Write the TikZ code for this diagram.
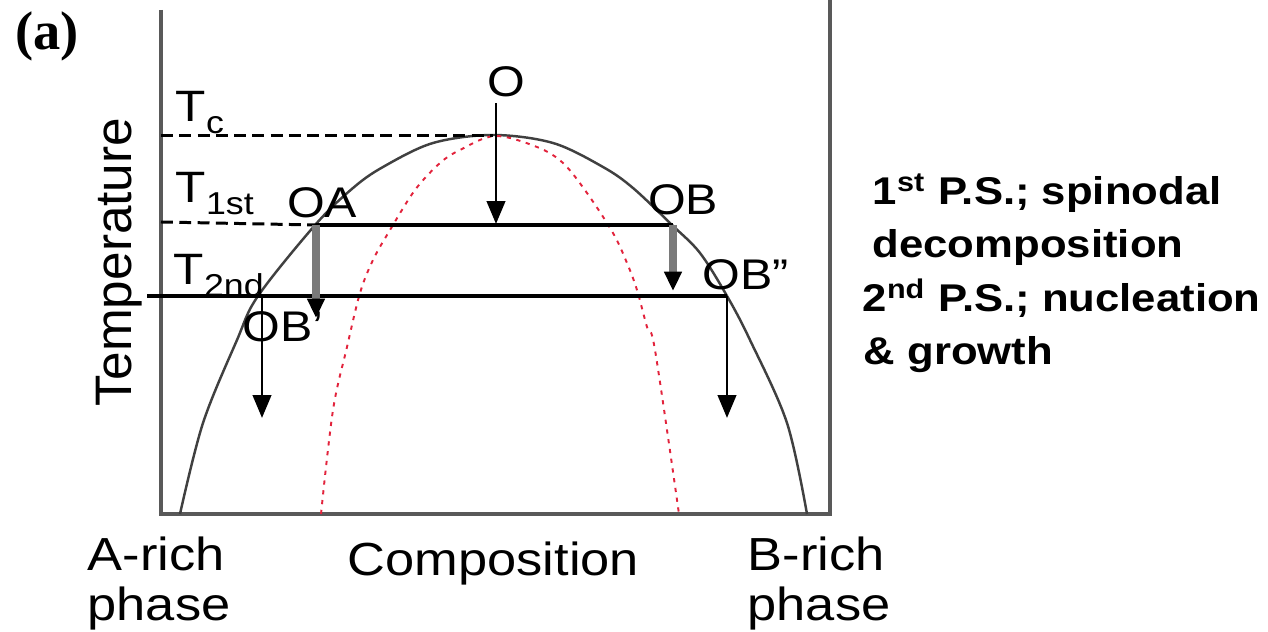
\documentclass[tikz,border=0pt]{standalone}
\usepackage{fontspec}
\setmainfont{Liberation Sans}
\newfontfamily\panelfont{Liberation Serif}
\usepackage{graphicx}
\usepackage{xcolor}
\usetikzlibrary{arrows.meta}

\definecolor{spinred}{RGB}{226,35,60}
\newcommand{\wide}[1]{\scalebox{1.13}[1]{#1}}
\newcommand{\tsub}[1]{\raisebox{-3.3pt}{\fontsize{9}{9}\selectfont #1}}

\begin{document}
\begin{tikzpicture}[x=0.1mm, y=-0.1mm,
    lbl/.style={inner sep=1.5pt, anchor=base, font=\fontsize{12.2}{14}\selectfont},
    tlbl/.style={inner sep=0pt, anchor=base west, font=\fontsize{12.5}{14}\selectfont},
    axtext/.style={inner sep=0pt, anchor=base west, font=\fontsize{13.2}{15}\selectfont},
    note/.style={inner sep=0pt, anchor=base west, font=\fontsize{11}{13}\selectfont\bfseries},
    frame/.style={draw=black!65, line width=1.15pt},
    binodal/.style={draw=black!75, line width=0.7pt},
    spinodal/.style={draw=spinred, line width=0.55pt, dash pattern=on 1.2pt off 1.6pt},
    tie/.style={draw=black, line width=1pt},
    guide/.style={draw=black, line width=0.85pt, dash pattern=on 3.4pt off 1.8pt},
    blackarr/.style={draw=black, line width=0.85pt, -{Triangle[length=6.5pt,width=5.2pt]}},
    grayarr/.style={draw=black!52, line width=2pt, -{Triangle[length=5.5pt,width=4.8pt,color=black]}}]
    \useasboundingbox (0,0) rectangle (1268,632);

    % frame of the phase diagram
    \draw[frame] (161,10) -- (161,514) -- (830,514) -- (830,0);

    % binodal and spinodal curves
    \draw[binodal] plot[smooth, tension=0.55] coordinates {(180,514) (203,423) (237,340) (258,296) (316,224) (353,188) (383,167) (433,143) (493,135) (553,143) (603,167) (633,188) (672,225) (700,253) (727,296) (750,340) (787,423) (807,514)};
    \draw[spinodal] plot[smooth, tension=0.55] coordinates {(321,514) (333,410) (347,347) (360,293) (373,260) (390,230) (415,190) (440,163) (460,150) (495,136) (537,147) (563,163) (587,193) (613,233) (627,263) (637,290) (647,327) (655,350) (679,514)};

    % points on the curves
    \coordinate (peak) at (493,136);
    \coordinate (pA) at (316,225);
    \coordinate (pB) at (673,225);
    \coordinate (pB1) at (262,296);
    \coordinate (pB2) at (727,296);
    \coordinate (oEnd) at (496,224);

    % temperature levels
    \draw[guide] (161,136) -- (peak);
    \draw[guide] (161,222) -- (pA);
    \draw[tie] (pA) -- (pB);
    \draw[tie] (147,296) -- (pB2);

    % labels
    \node[font=\fontsize{15.5}{18}\selectfont\panelfont\bfseries, inner sep=0pt] (panel) at (47,36) {(a)};
    \node[rotate=90, anchor=base, inner sep=0pt, font=\fontsize{14.6}{16}\selectfont] (temp) at (132,262) {Temperature};
    \node[tlbl] (tc) at (175,122) {\wide{T\tsub{c}}};
    \node[tlbl] (t1st) at (175,203) {\wide{T\tsub{1st}}};
    \node[tlbl] (t2nd) at (173,285) {\wide{T\tsub{2nd}}};
    \node[lbl] (O) at (506,97) {\wide{O}};
    \node[lbl] (OA) at (322,218) {\wide{OA}};
    \node[lbl] (OB) at (683,215) {\wide{OB}};
    \node[lbl, anchor=base west] (OBp) at (237,342) {\wide{OB'}};
    \node[lbl, anchor=base west] (OBpp) at (697,290) {\wide{OB"}};

    \node[axtext] (arich) at (87,571) {\wide{A-rich}};
    \node[axtext] (aphase) at (87,621) {\wide{phase}};
    \node[axtext] (comp) at (347,576) {\wide{Composition}};
    \node[axtext] (brich) at (747,571) {\wide{B-rich}};
    \node[axtext] (bphase) at (747,621) {\wide{phase}};

    \node[note] (first) at (872,205) {\wide{1\textsuperscript{st} P.S.; spinodal}};
    \node[note] (firstb) at (872,258) {\wide{decomposition}};
    \node[note] (second) at (862,312) {\wide{2\textsuperscript{nd} P.S.; nucleation}};
    \node[note] (secondb) at (863,365) {\wide{\& growth}};

    % quench and phase separation arrows
    \draw[blackarr] (O.south -| oEnd) -- (oEnd);
    \draw[grayarr] (pA) -- (316,318);
    \draw[grayarr] (pB) -- (673,291);
    \draw[blackarr] (pB1) -- (262,418);
    \draw[blackarr] (pB2) -- (727,418);
\end{tikzpicture}
\end{document}
